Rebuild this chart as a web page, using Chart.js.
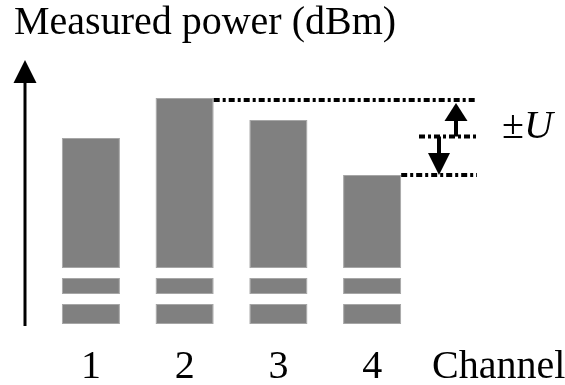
<!DOCTYPE html>
<html>
<head>
<meta charset="utf-8">
<title>Measured power per channel</title>
<script src="https://cdn.jsdelivr.net/npm/chart.js@4"></script>
<style>
  html, body { margin: 0; padding: 0; background: #ffffff; }
  #wrap { width: 565px; height: 385px; position: relative; }
</style>
</head>
<body>
<div id="wrap"><canvas id="powerChart"></canvas></div>
<script>
// canais e potência medida (unidades relativas do eixo, eixo interrompido em baixo)
const channels = ['1', '2', '3', '4'];
const measuredPower = [188, 228, 206, 151];
const barFloor = 58;            // onde começa a parte "inteira" da barra
const breakBandA = [32, 48];    // faixas do corte do eixo
const breakBandB = [2, 22];
const yMax = 266;

const serif = '"Liberation Serif", "DejaVu Serif", serif';
const barGrey = '#808080';

// desenha seta cheia (ponta em tipY)
function seta(ctx, x, baseY, tipY, w) {
    ctx.beginPath();
    ctx.moveTo(x, tipY);
    ctx.lineTo(x - w / 2, baseY);
    ctx.lineTo(x + w / 2, baseY);
    ctx.closePath();
    ctx.fill();
}

// eixo com seta, linhas de nível, ±U e rótulo "Channel"
const decoracao = {
    id: 'decoracao',
    afterDraw(chart) {
        const ctx = chart.ctx;
        const area = chart.chartArea;
        const y = chart.scales.y;
        const x = chart.scales.x;
        const barras = chart.getDatasetMeta(0).data;

        ctx.save();
        ctx.fillStyle = '#000';
        ctx.strokeStyle = '#000';

        // eixo vertical com seta
        const ax = area.left - 19;
        ctx.lineWidth = 3;
        ctx.beginPath();
        ctx.moveTo(ax, y.getPixelForValue(0));
        ctx.lineTo(ax, area.top + 20);
        ctx.stroke();
        seta(ctx, ax, area.top + 23, area.top, 23);

        // níveis máximo, médio e mínimo
        const hi = Math.max(...measuredPower);
        const lo = Math.min(...measuredPower);
        const mid = (hi + lo) / 2;
        const yHi = y.getPixelForValue(hi) + 2;
        const yLo = y.getPixelForValue(lo);
        const yMid = y.getPixelForValue(mid);
        const fim = area.right + 58;
        const bHi = barras[measuredPower.indexOf(hi)];
        const bLo = barras[measuredPower.indexOf(lo)];

        ctx.lineWidth = 4;
        ctx.setLineDash([6, 3, 3, 3]);
        [[bHi.x + bHi.width / 2, yHi], [area.right, yMid], [bLo.x + bLo.width / 2, yLo]].forEach(function (l) {
            ctx.beginPath();
            ctx.moveTo(l[0], l[1]);
            ctx.lineTo(fim, l[1]);
            ctx.stroke();
        });
        ctx.setLineDash([]);

        // setas de incerteza
        const xUp = area.right + 37;
        const xDown = area.right + 20;
        ctx.lineWidth = 4;
        ctx.beginPath();
        ctx.moveTo(xUp, yMid);
        ctx.lineTo(xUp, yHi + 20);
        ctx.moveTo(xDown, yMid);
        ctx.lineTo(xDown, yLo - 20);
        ctx.stroke();
        seta(ctx, xUp, yHi + 21, yHi + 3, 23);
        seta(ctx, xDown, yLo - 22, yLo, 22);

        // ±U
        ctx.textBaseline = 'alphabetic';
        ctx.textAlign = 'left';
        ctx.font = '40px ' + serif;
        const tx = area.right + 83;
        ctx.fillText('±', tx, yMid + 1);
        const wPm = ctx.measureText('±').width;
        ctx.font = 'italic 40px ' + serif;
        ctx.fillText('U', tx + wPm, yMid + 1);

        // rótulo do eixo x ao lado dos números
        ctx.font = '40px ' + serif;
        ctx.textBaseline = 'middle';
        ctx.fillText('Channel', area.right + 13, x.top + 41);
        ctx.restore();
    }
};

window.onload = function () {
    var ctx = document.getElementById('powerChart').getContext('2d');
    var barra = {
        backgroundColor: barGrey,
        borderColor: '#a6a6a6',
        borderWidth: 1,
        borderSkipped: false,
        categoryPercentage: 1,
        barPercentage: 0.62
    };
    new Chart(ctx, {
        type: 'bar',
        data: {
            labels: channels,
            datasets: [
                Object.assign({ label: 'Potência', data: measuredPower.map(v => [barFloor, v]) }, barra),
                Object.assign({ label: 'Corte A', data: channels.map(() => breakBandA) }, barra),
                Object.assign({ label: 'Corte B', data: channels.map(() => breakBandB) }, barra)
            ]
        },
        options: {
            responsive: true,
            maintainAspectRatio: false,
            animation: false,
            layout: { padding: { left: 14, right: 146, top: 0, bottom: 0 } },
            plugins: {
                legend: { display: false },
                tooltip: { enabled: false },
                title: {
                    display: true,
                    text: 'Measured power (dBm)',
                    align: 'start',
                    color: '#000',
                    font: { family: serif, size: 40, weight: 'normal', lineHeight: 1 },
                    padding: { top: 3, bottom: 17 }
                }
            },
            scales: {
                x: {
                    stacked: true,
                    grid: { display: false, drawTicks: false },
                    border: { display: false },
                    ticks: {
                        color: '#000',
                        padding: 21,
                        font: { family: serif, size: 40, lineHeight: 1 }
                    },
                    afterFit: function (s) { s.height = 59; }
                },
                y: {
                    stacked: false,
                    min: 0,
                    max: yMax,
                    grid: { display: false },
                    border: { display: false },
                    ticks: { display: false },
                    afterFit: function (s) { s.width = 30; }
                }
            }
        },
        plugins: [decoracao]
    });
};
</script>
</body>
</html>
